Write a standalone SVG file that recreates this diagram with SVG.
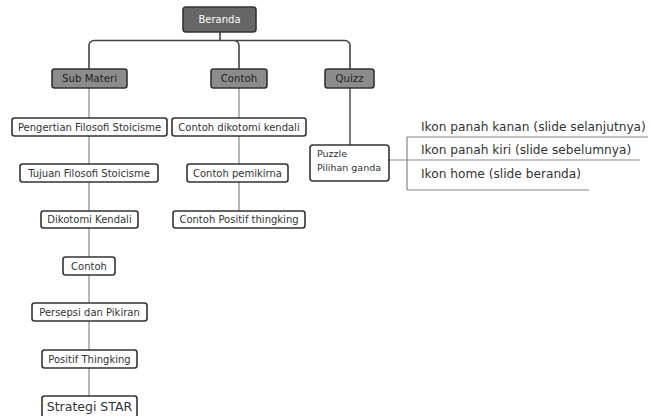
<svg xmlns="http://www.w3.org/2000/svg" width="652" height="416" viewBox="0 0 652 416">
<style>
text{font-family:"DejaVu Sans",Verdana,sans-serif;fill:#333}
.n rect{fill:#fff;stroke:#333;stroke-width:1.6}
.n text{font-size:10px;text-anchor:middle}
.h rect{fill:#8c8c8c;stroke:#333;stroke-width:1.6}
.h text{font-size:10.2px;text-anchor:middle;fill:#222}
.c{fill:none;stroke:#444;stroke-width:1.6}
.g{fill:none;stroke:#888;stroke-width:1.2}
.t{font-size:12.2px}
</style>
<rect width="652" height="416" fill="#fff"/>
<g id="connectors">
<path class="c" d="M220 32V40.5M89 69V45.5a5 5 0 0 1 5-5H345a5 5 0 0 1 5 5V69M234 40.5a5 5 0 0 1 5 5V69"/>
<path class="g" d="M89 88V396M239 88V211"/>
<path class="c" d="M350 88V145" style="stroke-width:1.4"/>
<path class="g" d="M389 160H407M407 137V190M407 137H648M407 160H640M407 190H589"/>
</g>
<g id="beranda" class="h"><rect x="183" y="7" width="73" height="25" rx="3" style="fill:#666"/><text x="219.5" y="23" style="fill:#fff;font-size:10px">Beranda</text></g>
<g id="sub-materi" class="h"><rect x="52" y="69" width="75" height="19" rx="2.5"/><text x="89.5" y="82">Sub Materi</text></g>
<g id="contoh-h" class="h"><rect x="211" y="69" width="56" height="19" rx="2.5"/><text x="239" y="82">Contoh</text></g>
<g id="quizz" class="h"><rect x="325" y="69" width="49" height="19" rx="2.5"/><text x="349.5" y="82">Quizz</text></g>
<g id="pengertian" class="n"><rect x="12" y="118" width="155" height="18" rx="2.5"/><text x="89.5" y="130.5">Pengertian Filosofi Stoicisme</text></g>
<g id="tujuan" class="n"><rect x="20" y="164" width="138" height="18" rx="2.5"/><text x="89" y="176.5">Tujuan Filosofi Stoicisme</text></g>
<g id="dikotomi" class="n"><rect x="41" y="211" width="97" height="17" rx="2.5"/><text x="89.5" y="223">Dikotomi Kendali</text></g>
<g id="contoh" class="n"><rect x="63" y="257" width="52" height="18" rx="2.5"/><text x="89" y="269.5">Contoh</text></g>
<g id="persepsi" class="n"><rect x="32" y="303" width="115" height="18" rx="2.5"/><text x="89.5" y="315.5">Persepsi dan Pikiran</text></g>
<g id="positif" class="n"><rect x="42" y="350" width="95" height="18" rx="2.5"/><text x="89.5" y="362.5">Positif Thingking</text></g>
<g id="strategi" class="n"><rect x="42" y="396" width="95" height="22" rx="2.5"/><text x="89.5" y="411" style="font-size:12.5px">Strategi STAR</text></g>
<g id="contoh-dikotomi" class="n"><rect x="172" y="118" width="134" height="18" rx="2.5"/><text x="239" y="130.5">Contoh dikotomi kendali</text></g>
<g id="contoh-pemikirna" class="n"><rect x="187" y="164" width="101" height="18" rx="2.5"/><text x="237.5" y="176.5">Contoh pemikirna</text></g>
<g id="contoh-positif" class="n"><rect x="173" y="211" width="132" height="17" rx="2.5"/><text x="239" y="223">Contoh Positif thingking</text></g>
<g id="puzzle" class="n"><rect x="310" y="145" width="79" height="36" rx="3"/><text x="317" y="157" style="text-anchor:start;font-size:9.5px">Puzzle</text><text x="317" y="171" style="text-anchor:start;font-size:9.5px">Pilihan ganda</text></g>
<g id="ikon-kanan"><text class="t" x="421" y="131">Ikon panah kanan (slide selanjutnya)</text></g>
<g id="ikon-kiri"><text class="t" x="421" y="154">Ikon panah kiri (slide sebelumnya)</text></g>
<g id="ikon-home"><text class="t" x="421" y="178">Ikon home (slide beranda)</text></g>
</svg>
